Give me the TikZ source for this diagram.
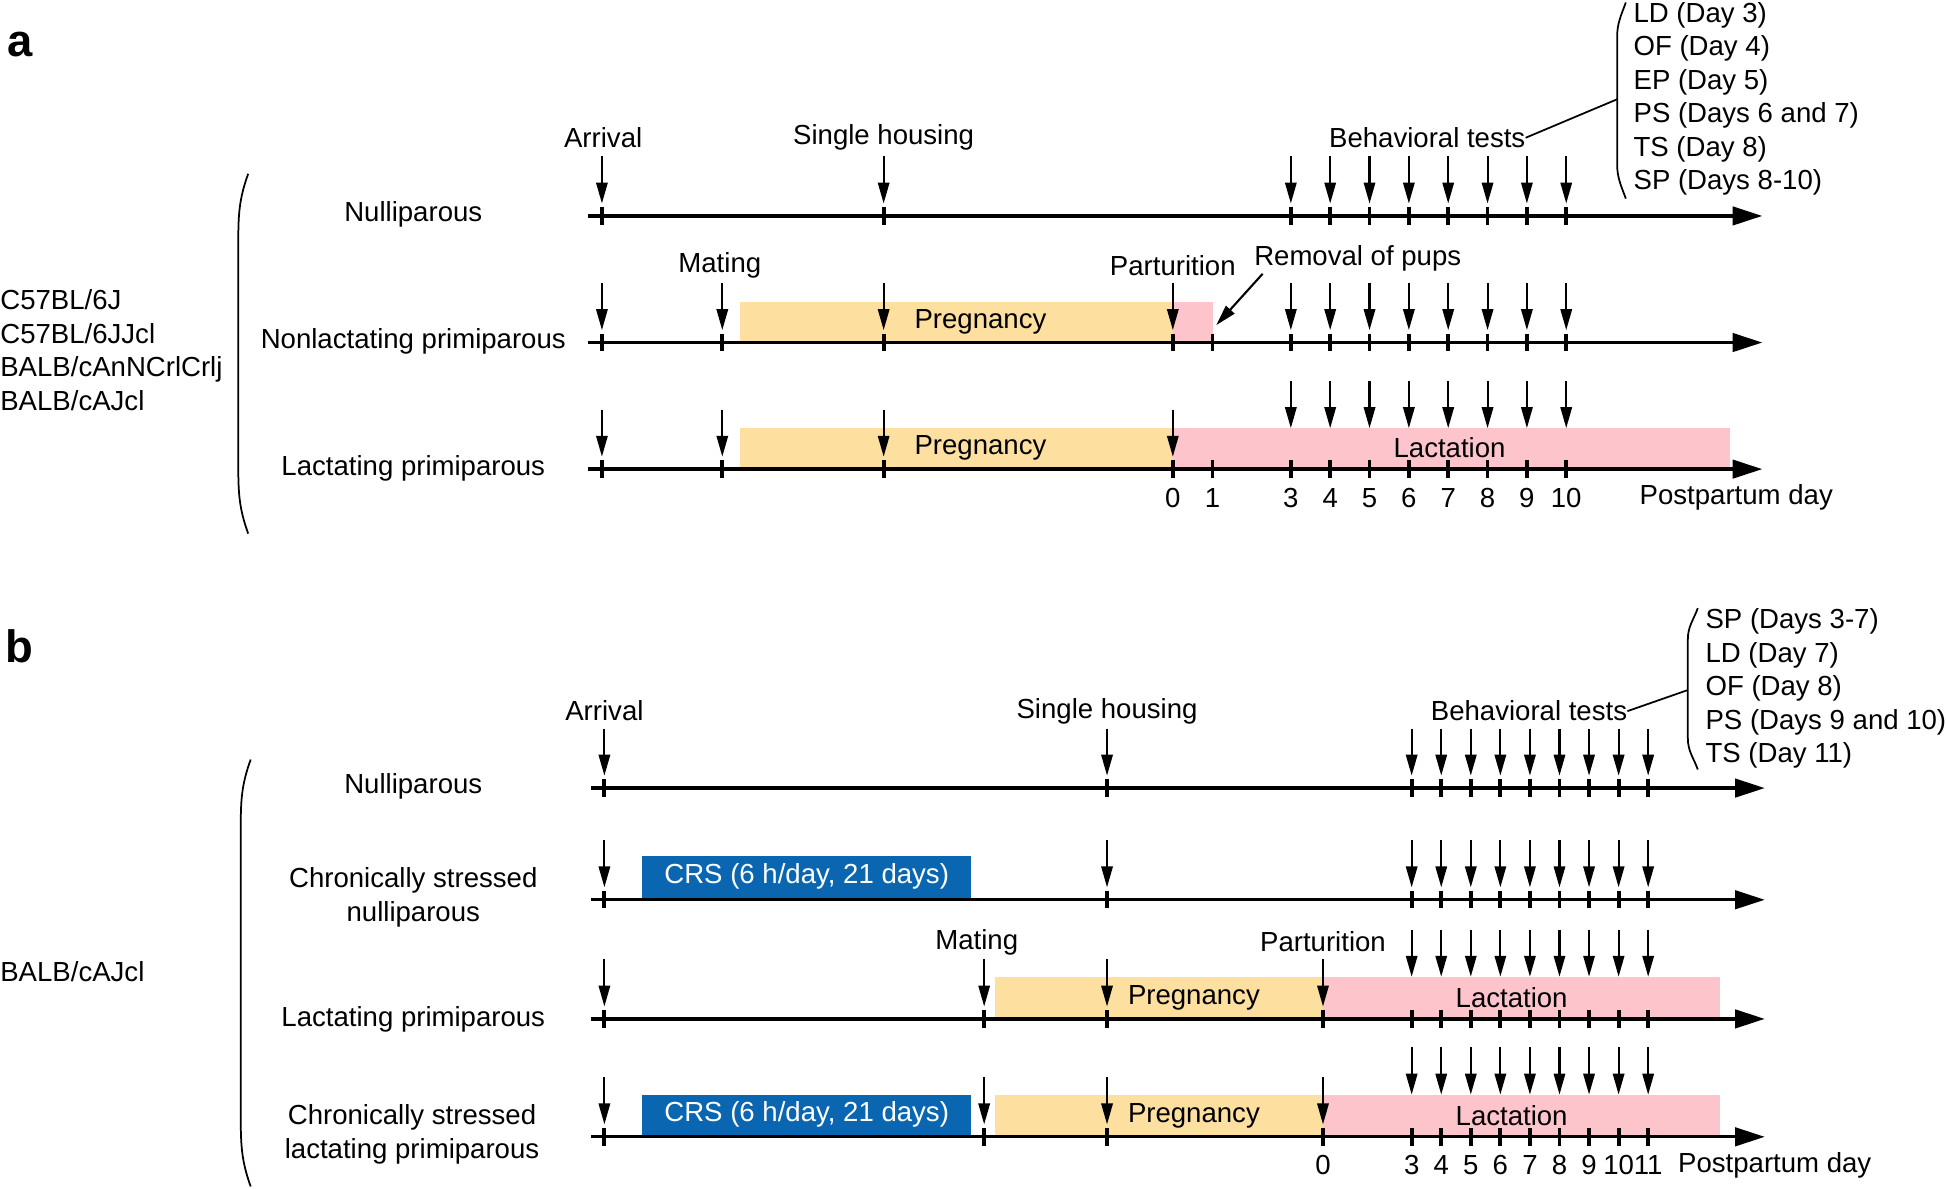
\documentclass[tikz,border=0pt]{standalone}
\usepackage{fontspec}
\setmainfont{Liberation Sans}
\usetikzlibrary{arrows.meta}
\definecolor{preg}{HTML}{FDDFA0}
\definecolor{lact}{HTML}{FEC4CB}
\definecolor{crs}{HTML}{0B66B1}

\begin{document}
\begin{tikzpicture}[x=0.025cm,y=-0.025cm,
  every node/.style={inner sep=0pt,font=\fontsize{15.8}{19.2}\selectfont},
  panel/.style={font=\fontsize{26}{30}\selectfont\bfseries},
  tl/.style={line width=1.9pt,-{Triangle[length=17pt,width=10.5pt]}},
  tick/.style={line width=2.2pt},
  dn/.style={line width=1.2pt,-{Triangle[length=12pt,width=6.5pt]}},
  brc/.style={line width=1pt}]
 \useasboundingbox (0,0) rectangle (1568,958);
 \begin{scope}
  \fill[preg] (596,243) rectangle (945,276);
  \fill[lact] (945,243) rectangle (977,276);
  \fill[preg] (596,345) rectangle (945,378);
  \fill[lact] (945,345) rectangle (1394,378);
  \foreach \y in {174,276,378} \draw[tl] (474,\y) -- (1420,\y);
  \foreach \x in {485,712} {
   \draw[tick] (\x,167) -- (\x,181);
   \draw[dn] (\x,126) -- (\x,164);
  }
  \foreach \y in {276,378} {
   \foreach \x in {485,582,712,945,977} \draw[tick] (\x,\y-7) -- (\x,\y+7);
   \foreach \x in {485,582,712,945} \draw[dn] (\x,\y-48) -- (\x,\y-10);
  }
  \foreach \d in {3,...,10} {
   \foreach \y in {174,276,378}
    \draw[tick] ({945+31.7*\d},\y-7) -- ({945+31.7*\d},\y+7);
   \foreach \y in {174,276}
    \draw[dn] ({945+31.7*\d},\y-48) -- ({945+31.7*\d},\y-10);
   \draw[dn] ({945+31.7*\d},307) -- ({945+31.7*\d},345);
  }
  \draw (16,36) node[panel] (labA) {a};
  \draw (486,111) node (arrA) {Arrival};
  \draw (712,111) node (singA) {Single housing};
  \draw (1150,111) node (behA) {Behavioral tests};
  \draw (333,173) node (nullA) {Nulliparous};
  \draw (580,214) node (matA) {Mating};
  \draw (945,214) node (partA) {Parturition};
  \draw (1094,208) node (remA) {Removal of pups};
  \draw (333,275) node (nonA) {Nonlactating primiparous};
  \draw (333,377) node (lacA) {Lactating primiparous};
  \draw (790,259) node (pregA1) {Pregnancy};
  \draw (790,361) node (pregA2) {Pregnancy};
  \draw (1168,361) node (lactA) {Lactation};
  \draw (945,401) node (dayA0) {0};
  \draw (977,401) node (dayA1) {1};
  \foreach \d in {3,...,10} \draw ({945+31.7*\d},401) node (dayA\d) {\d};
  \draw (1399,401) node (ppA) {Postpartum day};
  \draw (0,282) node[anchor=west,align=left] (strA)
   {C57BL/6J\\C57BL/6JJcl\\BALB/cAnNCrlCrlj\\BALB/cAJcl};
  \draw (1316,79.5) node[anchor=west,align=left] (testA)
   {LD (Day 3)\\OF (Day 4)\\EP (Day 5)\\PS (Days 6 and 7)\\TS (Day 8)\\SP (Days 8-10)};
  \draw[brc] (200,140) to[out=250,in=90] (192,195) -- (192,375) to[out=-90,in=110] (200,430);
  \draw[brc] (1310,2) to[out=250,in=90] (1303,30) -- (1303,132) to[out=-90,in=110] (1310,160);
  \draw[brc] (behA.east) -- (1303,80);
  \draw[dn] ([shift={(7,2)}]remA.south west) -- (980,262);
 \end{scope}
 \begin{scope}
  \fill[crs] (517,690) rectangle (782,725);
  \fill[preg] (802,787) rectangle (1066,821);
  \fill[lact] (1066,787) rectangle (1386,821);
  \fill[crs] (517,882) rectangle (782,916);
  \fill[preg] (802,882) rectangle (1066,916);
  \fill[lact] (1066,882) rectangle (1386,916);
  \foreach \y in {635,725,821,916} \draw[tl] (476,\y) -- (1422,\y);
  \foreach \y in {635,725} \foreach \x in {487,892} {
   \draw[tick] (\x,\y-7) -- (\x,\y+7);
   \draw[dn] (\x,\y-48) -- (\x,\y-10);
  }
  \foreach \y in {821,916} \foreach \x in {487,793,892,1066} {
   \draw[tick] (\x,\y-7) -- (\x,\y+7);
   \draw[dn] (\x,\y-48) -- (\x,\y-10);
  }
  \foreach \d in {3,...,11} {
   \foreach \y in {635,725,821,916}
    \draw[tick] ({1066+23.82*\d},\y-7) -- ({1066+23.82*\d},\y+7);
   \foreach \y in {635,725}
    \draw[dn] ({1066+23.82*\d},\y-48) -- ({1066+23.82*\d},\y-10);
   \foreach \y in {787,882}
    \draw[dn] ({1066+23.82*\d},\y-38) -- ({1066+23.82*\d},\y);
  }
  \draw (16,521) node[panel] (labB) {b};
  \draw (487,573) node (arrB) {Arrival};
  \draw (892,573) node (singB) {Single housing};
  \draw (1232,573) node (behB) {Behavioral tests};
  \draw (333,634) node (nullB) {Nulliparous};
  \draw (333,723) node[align=center] (crsnB) {Chronically stressed\\nulliparous};
  \draw (787,759) node (matB) {Mating};
  \draw (1066,759) node (partB) {Parturition};
  \draw (333,821) node (lacB) {Lactating primiparous};
  \draw (332,914) node[align=center] (crslB) {Chronically stressed\\lactating primiparous};
  \draw (650,706) node[text=white] (crsB1) {CRS (6 h/day, 21 days)};
  \draw (650,898) node[text=white] (crsB2) {CRS (6 h/day, 21 days)};
  \draw (962,804) node (pregB1) {Pregnancy};
  \draw (1218,804) node (lactB1) {Lactation};
  \draw (962,899) node (pregB2) {Pregnancy};
  \draw (1218,899) node (lactB2) {Lactation};
  \draw (1066,939) node (dayB0) {0};
  \foreach \d in {3,...,11} \draw ({1066+23.82*\d},939) node (dayB\d) {\d};
  \draw (1430,939) node (ppB) {Postpartum day};
  \draw (0,783) node[anchor=west] (strB) {BALB/cAJcl};
  \draw (1374,555) node[anchor=west,align=left] (testB)
   {SP (Days 3-7)\\LD (Day 7)\\OF (Day 8)\\PS (Days 9 and 10)\\TS (Day 11)};
  \draw[brc] (202,612) to[out=250,in=90] (194,665) -- (194,900) to[out=-90,in=110] (202,956);
  \draw[brc] (1368,490) to[out=250,in=90] (1360,515) -- (1360,595) to[out=-90,in=110] (1368,620);
  \draw[brc] (behB.east) -- (1360,556);
 \end{scope}
\end{tikzpicture}
\end{document}
